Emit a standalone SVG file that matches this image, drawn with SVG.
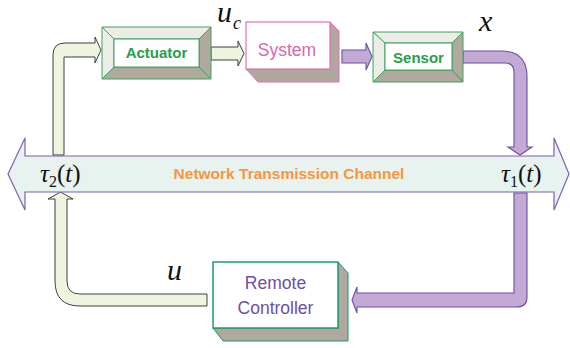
<svg xmlns="http://www.w3.org/2000/svg" width="570" height="348" viewBox="0 0 570 348">
<style>
.gp{fill:#edf5de;stroke:#2b2b2b;stroke-width:0.9;stroke-linejoin:miter}
.pp{fill:#c3a9d3;stroke:#6a4eaa;stroke-width:1.1;stroke-linejoin:miter}
.lt{fill:#ededE8;stroke:#3ea060;stroke-width:1}
.dk{fill:#b1a89e;stroke:#3ea060;stroke-width:1}
.in{fill:#ffffff;stroke:#3ea060;stroke-width:1}
.bt{font-family:"Liberation Sans",Arial,sans-serif;font-weight:bold;font-size:15px;fill:#2a9d4c;text-anchor:middle}
.mt{font-family:"Liberation Serif","Times New Roman",serif;font-style:italic;fill:#111}
.up{font-style:normal}
.ex{fill:#b0a79d}
</style>
<g id="connectors">
  <path class="gp" d="M53,155 L53,55 Q53,43 65,43 L95,43 L95,37 L101,50 L95,63 L95,57 L64,57 L64,155 Z"/>
  <path class="gp" d="M211,47 L238,47 L238,41 L244,53.5 L238,66 L238,60 L211,60 Z"/>
  <path class="pp" d="M342,50 L366,50 L366,43 L372,56.5 L366,70 L366,63 L342,63 Z"/>
  <path class="pp" d="M463,51 L501,51 Q527,51 527,77 L527,147 L532,147 L520,155 L508,147 L514,147 L514,72 Q514,63 505,63 L463,63 Z"/>
  <path class="pp" d="M514,193 L514,293 L357,293 L357,287 L352,300 L357,313 L357,307 L517,307 Q527,307 527,297 L527,193 Z"/>
  <path class="gp" d="M60.5,192 L73,199 L67,199 L67,281 Q67,294 80,294 L207,294 L207,306 L80,306 Q55,306 55,281 L55,199 L48,199 Z"/>
</g>
<g id="channel">
  <path d="M8,174 L25,138 L25,156 L554,156 L554,138 L569,174 L554,210 L554,192 L25,192 L25,210 Z" fill="#e8f3ef" stroke="#7b5fb5" stroke-width="1.2"/>
  <text x="289" y="178.5" font-family="Liberation Sans,Arial,sans-serif" font-weight="bold" font-size="15.5" fill="#f7963f" text-anchor="middle">Network Transmission Channel</text>
  <text class="mt" x="40" y="182" font-size="25">τ<tspan class="up" font-size="16" dy="5">2</tspan><tspan class="up" dy="-5">(</tspan>t<tspan class="up">)</tspan></text>
  <text class="mt" x="501" y="182" font-size="25">τ<tspan class="up" font-size="16" dy="5">1</tspan><tspan class="up" dy="-5">(</tspan>t<tspan class="up">)</tspan></text>
</g>
<g id="actuator">
  <path class="lt" d="M102,27 L211,27 L199,39 L114,39 Z"/>
  <path class="lt" d="M102,27 L114,39 L114,67 L102,79 Z"/>
  <path class="dk" d="M211,27 L211,79 L199,67 L199,39 Z"/>
  <path class="dk" d="M102,79 L211,79 L199,67 L114,67 Z"/>
  <rect class="in" x="114" y="39" width="85" height="28"/>
  <text class="bt" x="156.5" y="58">Actuator</text>
</g>
<g id="system">
  <path class="ex" d="M330,22 L339,31 L339,82 L258,82 L246,69 L330,69 Z" stroke="#e070b8" stroke-width="1"/>
  <rect x="246" y="22" width="84" height="47" fill="#ffffff" stroke="#e070b8" stroke-width="1.2"/>
  <text x="287" y="56" font-family="Liberation Sans,Arial,sans-serif" font-size="17.5" fill="#d868b0" text-anchor="middle">System</text>
</g>
<g id="sensor">
  <path class="lt" d="M373,32 L463,32 L452,43 L385,43 Z"/>
  <path class="lt" d="M373,32 L385,43 L385,70 L373,82 Z"/>
  <path class="dk" d="M463,32 L463,82 L452,70 L452,43 Z"/>
  <path class="dk" d="M373,82 L463,82 L452,70 L385,70 Z"/>
  <rect class="in" x="385" y="43" width="67" height="27"/>
  <text class="bt" x="418.5" y="62.5">Sensor</text>
</g>
<g id="controller">
  <path class="ex" d="M338,262 L348,273 L348,341 L223,341 L213,328 L338,328 Z" stroke="#1f9a70" stroke-width="1"/>
  <rect x="213" y="262" width="125" height="66" fill="#ffffff" stroke="#1f9a70" stroke-width="1.5"/>
  <text x="275.5" y="288.5" font-family="Liberation Sans,Arial,sans-serif" font-size="17.5" fill="#6c4fa8" text-anchor="middle">Remote</text>
  <text x="275.5" y="313.5" font-family="Liberation Sans,Arial,sans-serif" font-size="17.5" fill="#6c4fa8" text-anchor="middle">Controller</text>
</g>
<g id="labels">
  <text class="mt" x="217" y="22" font-size="30">u</text>
  <text class="mt" x="233" y="29" font-size="18">c</text>
  <text class="mt" x="479" y="31" font-size="30">x</text>
  <text class="mt" x="167" y="280" font-size="30">u</text>
</g>
</svg>
